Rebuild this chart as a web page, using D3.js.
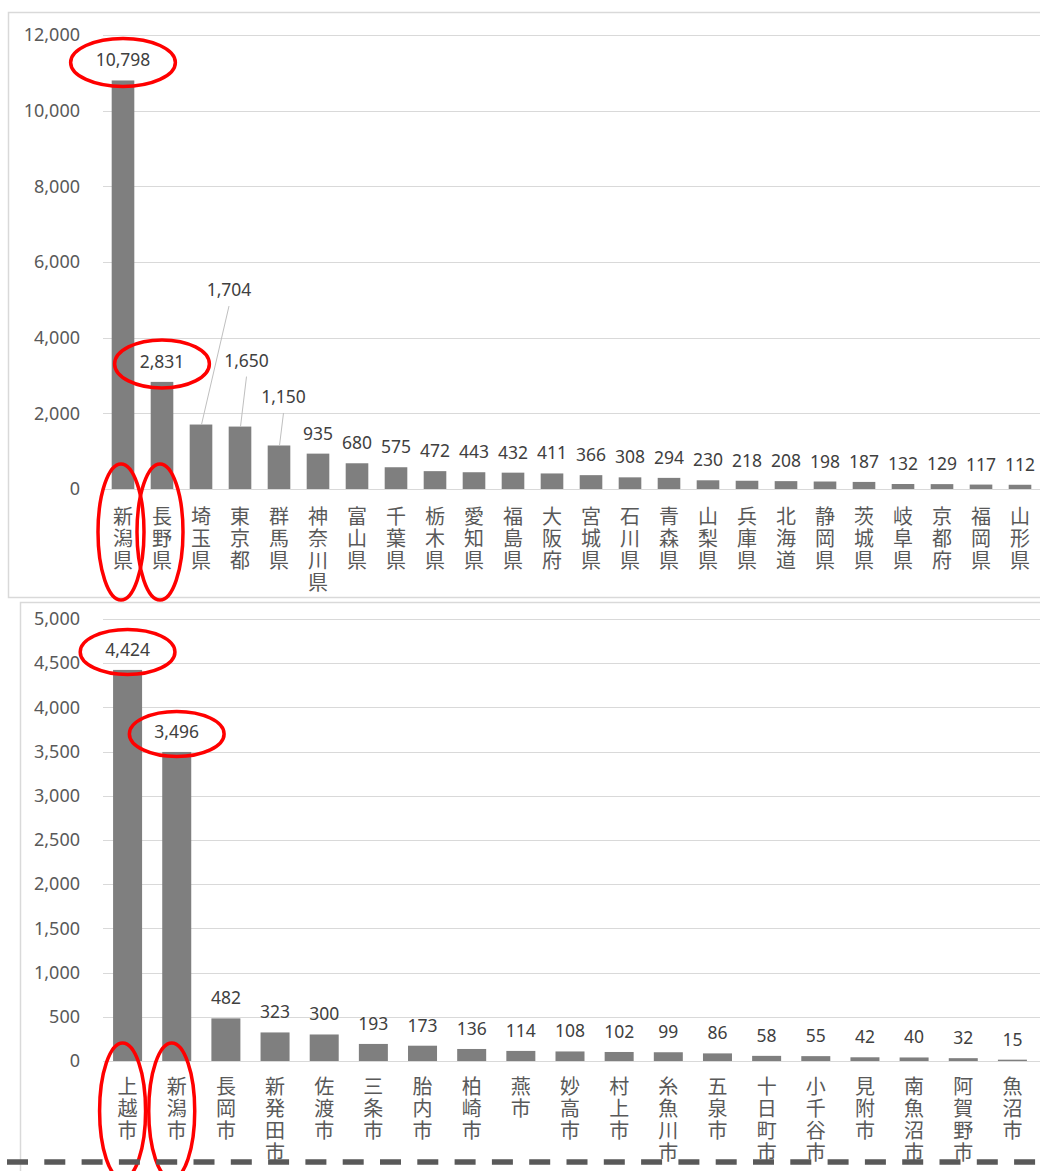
<!DOCTYPE html>
<html><head><meta charset="utf-8">
<script src="https://cdn.jsdelivr.net/npm/d3@7"></script>
<style>body{margin:0;background:#fff}</style>
</head><body><svg id="c" width="1040" height="1171" style="display:block"></svg>
<script>
// ---------- data ----------
const prefectures = ["新潟県","長野県","埼玉県","東京都","群馬県","神奈川県","富山県","千葉県","栃木県","愛知県","福島県","大阪府","宮城県","石川県","青森県","山梨県","兵庫県","北海道","静岡県","茨城県","岐阜県","京都府","福岡県","山形県"];
const prefectureValues = [10798,2831,1704,1650,1150,935,680,575,472,443,432,411,366,308,294,230,218,208,198,187,132,129,117,112];
const prefectureTicks = [0,2000,4000,6000,8000,10000,12000];

const cities = ["上越市","新潟市","長岡市","新発田市","佐渡市","三条市","胎内市","柏崎市","燕市","妙高市","村上市","糸魚川市","五泉市","十日町市","小千谷市","見附市","南魚沼市","阿賀野市","魚沼市"];
const cityValues = [4424,3496,482,323,300,193,173,136,114,108,102,99,86,58,55,42,40,32,15];
const cityTicks = [0,500,1000,1500,2000,2500,3000,3500,4000,4500,5000];

const prefectureHighlights = ["新潟県","長野県"];
const cityHighlights = ["上越市","新潟市"];
// labels moved away from their bar with a leader line: [dx, dy] in px from bar top
const prefectureCallouts = {"埼玉県":[28,-128.5],"東京都":[6.5,-60],"群馬県":[4.5,-42.5]};

// ---------- drawing ----------
const svg = d3.select("#c");
const fmt = d3.format(",");
const NUM_FONT = "'Noto Sans', 'Open Sans', sans-serif";
const JP_FONT = "'Noto Sans CJK JP', sans-serif";

// panel frames
svg.append("rect").attr("x",8.5).attr("y",12.5).attr("width",1100).attr("height",585)
  .attr("fill","none").attr("stroke","#d9d9d9").attr("stroke-width",1.5);
svg.append("rect").attr("x",20.5).attr("y",602.5).attr("width",1100).attr("height",700)
  .attr("fill","none").attr("stroke","#d9d9d9").attr("stroke-width",1.5);

function drawPanel(cfg){
  const g = svg.append("g");
  const x = d3.scaleBand().domain(cfg.cats).range(cfg.xRange).paddingInner(cfg.pad).paddingOuter(cfg.pad/2);
  const y = d3.scaleLinear().domain([0, d3.max(cfg.ticks)]).range(cfg.yRange);
  // grid
  g.selectAll("line.grid").data(cfg.ticks).join("line").attr("class","grid")
    .attr("x1",103).attr("x2",1040).attr("y1",d=>Math.round(y(d))+0.5).attr("y2",d=>Math.round(y(d))+0.5)
    .attr("stroke","#d9d9d9").attr("stroke-width",1.2);
  // y axis labels
  const ax = d3.axisLeft(y).tickValues(cfg.ticks).tickFormat(fmt).tickSize(0).tickPadding(0);
  const axg = g.append("g").attr("transform","translate(80,0)").call(ax);
  axg.select(".domain").remove();
  axg.selectAll("text").attr("font-family",NUM_FONT).attr("font-size",18).attr("fill","#595959");
  // bars
  const data = cfg.cats.map((c,i)=>({c, v: cfg.vals[i]}));
  g.selectAll("rect.bar").data(data).join("rect").attr("class","bar")
    .attr("x",d=>x(d.c)).attr("width",x.bandwidth())
    .attr("y",d=>y(d.v)).attr("height",d=>y(0)-y(d.v)).attr("fill","#7f7f7f");
  // value labels
  const labelPos = d => {
    const co = cfg.callouts[d.c] || [0,-14];
    return [x(d.c)+x.bandwidth()/2+co[0], y(d.v)+co[1]];
  };
  Object.keys(cfg.callouts).forEach(c=>{
    const d = data.find(e=>e.c===c);
    const [lx,ly] = labelPos(d);
    g.append("line").attr("x1",lx).attr("y1",ly+10).attr("x2",x(c)+x.bandwidth()/2+0.5).attr("y2",y(d.v))
      .attr("stroke","#bfbfbf").attr("stroke-width",1);
  });
  const vl = g.selectAll("text.val").data(data).join("text").attr("class","val")
    .attr("x",d=>labelPos(d)[0]).attr("y",d=>labelPos(d)[1])
    .attr("text-anchor","middle").attr("font-family",NUM_FONT).attr("font-size",17.5).attr("fill","#404040")
    .text(d=>fmt(d.v));
  // category labels (vertical writing, upright characters)
  const axisY = y(0);
  g.selectAll("text.cat").data(cfg.cats).join("text").attr("class","cat")
    .attr("x",c=>x(c)+x.bandwidth()/2).attr("y",axisY+cfg.catTop)
    .style("writing-mode","vertical-rl").style("text-orientation","upright")
    .style("letter-spacing","2px")
    .attr("font-family",JP_FONT).attr("font-size",20).attr("fill","#595959")
    .text(c=>c);
  // highlight ellipses
  vl.filter(d=>cfg.highlights.includes(d.c)).each(function(d){
    const bb = this.getBBox();
    const [lx,ly] = labelPos(d);
    g.append("ellipse").attr("cx",lx).attr("cy",ly-4).attr("rx",bb.width/2+25).attr("ry",cfg.valRy)
      .attr("fill","none").attr("stroke","#ff0000").attr("stroke-width",3.5);
  });
  cfg.highlights.forEach(c=>{
    g.append("ellipse").attr("cx",x(c)+x.bandwidth()/2+cfg.catDx).attr("cy",axisY+cfg.catCy)
      .attr("rx",23).attr("ry",68).attr("fill","none").attr("stroke","#ff0000").attr("stroke-width",3.5);
  });
}

drawPanel({cats:prefectures, vals:prefectureValues, ticks:prefectureTicks,
  xRange:[103.5,1039.5], yRange:[489,35], pad:0.42, callouts:prefectureCallouts,
  highlights:prefectureHighlights, catTop:17, catDx:-2, catCy:43, valRy:24});
drawPanel({cats:cities, vals:cityValues, ticks:cityTicks,
  xRange:[103,1037], yRange:[1061,619], pad:0.41, callouts:{},
  highlights:cityHighlights, catTop:15.5, catDx:-5, catCy:50, valRy:22.5});

// dashed cut line
svg.append("line").attr("x1",7).attr("x2",1040).attr("y1",1162).attr("y2",1162)
  .attr("stroke","#595959").attr("stroke-width",5.5).attr("stroke-dasharray","21,16.3");
</script></body></html>
